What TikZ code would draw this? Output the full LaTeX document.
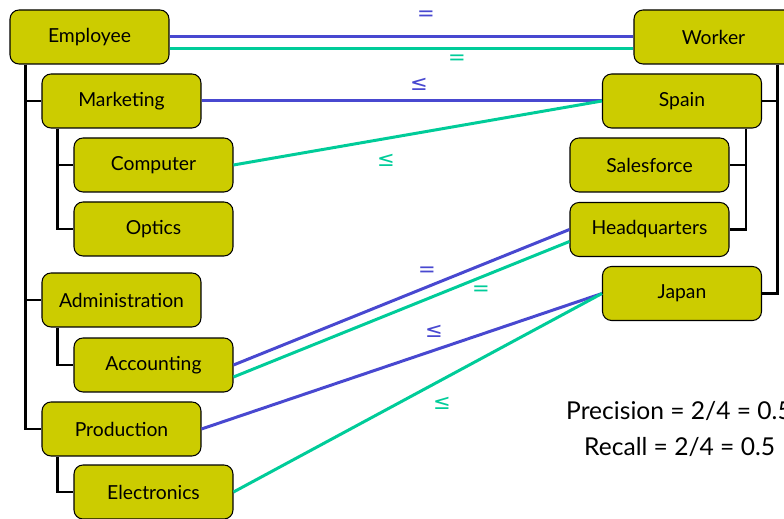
\documentclass[tikz,border=0pt]{standalone}
\usepackage{fontspec}
\setmainfont{Lato}
\newfontfamily\symfont{DejaVu Sans}
\usetikzlibrary{calc}
\definecolor{boxfill}{RGB}{204,204,0}
\definecolor{refblue}{RGB}{72,72,208}
\definecolor{refteal}{RGB}{0,204,153}
\tikzset{
	box/.style={draw=black, line width=0.6pt, fill=boxfill, rounded corners=0.18cm,
		minimum width=3.18cm, minimum height=1.08cm, inner sep=0pt,
		font=\fontsize{11}{13}\selectfont},
	tree/.style={line width=1.5pt, color=black},
	bluelink/.style={line width=1.7pt, color=refblue},
	teallink/.style={line width=1.7pt, color=refteal},
	bluelabel/.style={color=refblue, font=\symfont\fontsize{12}{14}\selectfont},
	teallabel/.style={color=refteal, font=\symfont\fontsize{12}{14}\selectfont},
	score/.style={anchor=west, font=\fontsize{14}{16}\selectfont}
}

\begin{document}
\begin{tikzpicture}[x=0.02cm, y=-0.02cm]
		%%%%% START %%%%%
		\useasboundingbox (0, 0) rectangle (784, 519);
		
		% left hierarchy
		\node[box] (emp) at (89.5, 37) {Employee};
		\node[box] (mkt) at (121.5, 101) {Marketing};
		\node[box] (cmp) at (153.5, 165) {Computer};
		\node[box] (opt) at (153.5, 229) {Optics};
		\node[box] (adm) at (121.5, 300) {Administration};
		\node[box] (acc) at (153.5, 365) {Accounting};
		\node[box] (prd) at (121.5, 429) {Production};
		\node[box] (elc) at (153.5, 492) {Electronics};
		
		% right hierarchy
		\node[box] (wrk) at (713.5, 37) {Worker};
		\node[box] (spn) at (682, 101) {Spain};
		\node[box] (sal) at (649.5, 165) {Salesforce};
		\node[box] (hq) at (649.5, 229.5) {Headquarters};
		\node[box] (jpn) at (682, 293.5) {Japan};
		
		\draw[tree] ([xshift=0.32cm]emp.south west) |- (mkt.west);
		\draw[tree] ([xshift=0.32cm]emp.south west) |- (adm.west);
		\draw[tree] ([xshift=0.32cm]emp.south west) |- (prd.west);
		\draw[tree] ([xshift=0.32cm]mkt.south west) |- (cmp.west);
		\draw[tree] ([xshift=0.32cm]mkt.south west) |- (opt.west);
		\draw[tree] ([xshift=0.32cm]adm.south west) |- (acc.west);
		\draw[tree] ([xshift=0.32cm]prd.south west) |- (elc.west);
		
		\draw[tree] ([xshift=-0.32cm]wrk.south east) |- (spn.east);
		\draw[tree] ([xshift=-0.32cm]wrk.south east) |- (jpn.east);
		\draw[tree] ([xshift=-0.32cm]spn.south east) |- (sal.east);
		\draw[tree] ([xshift=-0.32cm]spn.south east) |- (hq.east);
		
		% matches
		\draw[bluelink] (emp.east) -- (wrk.west);
		\draw[teallink] ([yshift=-0.24cm]emp.east) -- ([yshift=-0.24cm]wrk.west);
		\draw[bluelink] (mkt.east) -- (spn.west);
		\draw[teallink] (cmp.east) -- (spn.west);
		\draw[bluelink] (acc.east) -- (hq.west);
		\draw[teallink] ([yshift=-0.24cm]acc.east) -- ([yshift=-0.24cm]hq.west);
		\draw[bluelink] (prd.east) -- (jpn.west);
		\draw[teallink] (elc.east) -- (jpn.west);
		
		\node[bluelabel] (l1) at (426, 16) {=};
		\node[teallabel] (l2) at (457, 60) {=};
		\node[bluelabel] (l3) at (419, 84) {≤};
		\node[teallabel] (l4) at (386, 160) {≤};
		\node[bluelabel] (l5) at (427, 272) {=};
		\node[teallabel] (l6) at (481, 291) {=};
		\node[bluelabel] (l7) at (434, 331) {≤};
		\node[teallabel] (l8) at (442, 403) {≤};
		
		\node[score] (prec) at (560, 411) {Precision = 2/4 = 0.5};
		\node[score] (rec) at (578, 447) {Recall = 2/4 = 0.5};
		%%%%% END %%%%%
	\end{tikzpicture}
\end{document}
